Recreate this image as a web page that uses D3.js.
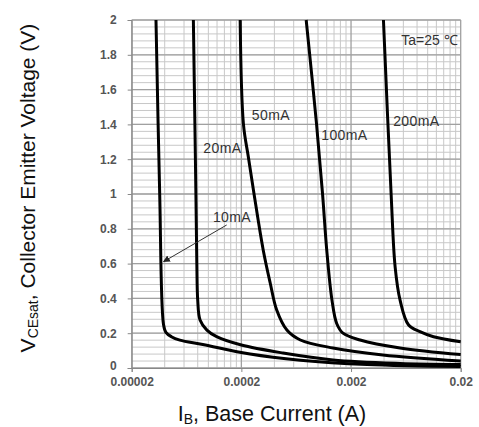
<!DOCTYPE html>
<html>
<head>
<meta charset="utf-8">
<script src="https://cdn.jsdelivr.net/npm/d3@7"></script>
<style>
  body { margin: 0; background: #fff; }
  svg { display: block; font-family: "Liberation Sans", Arial, sans-serif; }
</style>
</head>
<body>
<div id="chart"></div>
<script>
// base current values (A) and collector-emitter voltage (V)
const ib10 = [3.33e-5, 3.6e-5, 3.9e-5, 4.1e-5, 4.6e-5, 5.5e-5, 8.9e-5, 2.4e-4, 6.9e-4, 2.8e-3, 0.02];
const v10 = [2.0, 1.0, 0.25, 0.205, 0.18, 0.16, 0.135, 0.08, 0.045, 0.02, 0.008];

const ib20 = [7.3e-5, 7.7e-5, 7.85e-5, 8.0e-5, 8.4e-5, 9.7e-5, 1.19e-4, 2.0e-4, 4.8e-4, 1.37e-3, 5.6e-3, 0.02];
const v20 = [2.0, 1.0, 0.6, 0.39, 0.276, 0.218, 0.18, 0.132, 0.086, 0.046, 0.026, 0.02];

const ib50 = [1.95e-4, 2.09e-4, 2.32e-4, 2.61e-4, 3.16e-4, 3.66e-4, 4.2e-4, 5.2e-4, 6.9e-4, 1.37e-3, 3.9e-3, 0.02];
const v50 = [2.0, 1.4, 1.21, 1.0, 0.68, 0.49, 0.333, 0.218, 0.161, 0.115, 0.075, 0.04];

const ib100 = [7.8e-4, 9.7e-4, 1.10e-3, 1.20e-3, 1.34e-3, 1.48e-3, 1.69e-3, 2.42e-3, 5.6e-3, 0.02];
const v100 = [2.0, 1.4, 1.0, 0.68, 0.39, 0.256, 0.2, 0.161, 0.115, 0.077];

const ib200 = [3.95e-3, 4.64e-3, 5.05e-3, 5.6e-3, 6.7e-3, 8.5e-3, 1.13e-2, 0.02];
const v200 = [2.0, 1.0, 0.58, 0.39, 0.247, 0.209, 0.18, 0.151];

const xTicks = [0.00002, 0.0002, 0.002, 0.02];
const xTickLabels = ["0.00002", "0.0002", "0.002", "0.02"];
const yTicks = [0, 0.2, 0.4, 0.6, 0.8, 1, 1.2, 1.4, 1.6, 1.8, 2];

const seriesLabels = ["10mA", "20mA", "50mA", "100mA", "200mA"];
// label anchor (left end of baseline) in data units: [IB, V]
const labelPos = [[1.10e-4, 0.839], [9.0e-5, 1.234], [2.49e-4, 1.425], [1.07e-3, 1.31], [4.84e-3, 1.39]];

const width = 479, height = 427;
const margin = {left: 131.7, right: 18.3, top: 20, bottom: 59};

const svg = d3.select("#chart").append("svg")
    .attr("width", width)
    .attr("height", height);

const x = d3.scaleLog()
    .domain([xTicks[0], xTicks[xTicks.length - 1]])
    .range([margin.left, width - margin.right]);
const y = d3.scaleLinear()
    .domain([0, 2])
    .range([height - margin.bottom, margin.top]);

// grid: minor lines first, then major
const xMinor = [];
xTicks.slice(0, -1).forEach(function (t) {
    for (let m = 2; m <= 9; m++) xMinor.push(t * m);
});
const yMinor = d3.range(0, 2.0001, 0.04);

const grid = svg.append("g");
grid.selectAll("line.xm").data(xMinor).join("line")
    .attr("x1", d => x(d)).attr("x2", d => x(d))
    .attr("y1", y(0)).attr("y2", y(2))
    .attr("stroke", "#c8c8c8").attr("stroke-width", 1);
grid.selectAll("line.ym").data(yMinor).join("line")
    .attr("x1", x.range()[0]).attr("x2", x.range()[1])
    .attr("y1", d => y(d)).attr("y2", d => y(d))
    .attr("stroke", "#c8c8c8").attr("stroke-width", 1);
grid.selectAll("line.xM").data(xTicks).join("line")
    .attr("x1", d => x(d)).attr("x2", d => x(d))
    .attr("y1", y(0)).attr("y2", y(2))
    .attr("stroke", "#a0a0a0").attr("stroke-width", 1.3);
grid.selectAll("line.yM").data(yTicks).join("line")
    .attr("x1", x.range()[0]).attr("x2", x.range()[1])
    .attr("y1", d => y(d)).attr("y2", d => y(d))
    .attr("stroke", "#a0a0a0").attr("stroke-width", 1.3);

// axes
const xAxis = d3.axisBottom(x).tickValues(xTicks)
    .tickFormat((d, i) => xTickLabels[i]).tickSize(4).tickPadding(5);
const gx = svg.append("g")
    .attr("transform", "translate(0," + y(0) + ")")
    .call(xAxis);
gx.select(".domain").attr("stroke", "#888");
gx.selectAll(".tick line").attr("stroke", "#888");
gx.selectAll("text").attr("font-size", 12).attr("font-weight", "bold").attr("fill", "#555");

const yAxis = d3.axisLeft(y).tickValues(yTicks)
    .tickFormat(d3.format("~g")).tickSize(4).tickPadding(11);
const gy = svg.append("g")
    .attr("transform", "translate(" + x.range()[0] + ",0)")
    .call(yAxis);
gy.select(".domain").attr("stroke", "#888");
gy.selectAll(".tick line").attr("stroke", "#888");
gy.selectAll("text").attr("font-size", 12).attr("font-weight", "bold").attr("fill", "#555");
// lift the "0" label a touch so it clears the first x label
gy.selectAll(".tick").filter(d => d === 0).select("text").attr("dy", "0.1em");

// curves
svg.append("clipPath").attr("id", "plotclip")
    .append("rect")
    .attr("x", x.range()[0]).attr("y", y(2) - 1)
    .attr("width", x.range()[1] - x.range()[0] + 2)
    .attr("height", y(0) - y(2) + 2);

const series = [[ib10, v10], [ib20, v20], [ib50, v50], [ib100, v100], [ib200, v200]];
const line = d3.line()
    .x(d => x(d[0]))
    .y(d => y(d[1]))
    .curve(d3.curveCatmullRom.alpha(0.5));

svg.append("g").attr("clip-path", "url(#plotclip)")
    .selectAll("path").data(series).join("path")
    .attr("d", s => line(s[0].map((v, i) => [v, s[1][i]])))
    .attr("fill", "none")
    .attr("stroke", "#000")
    .attr("stroke-width", 3)
    .attr("stroke-linejoin", "round");

// curve labels
svg.append("g").selectAll("text").data(seriesLabels).join("text")
    .attr("x", (d, i) => x(labelPos[i][0]))
    .attr("y", (d, i) => y(labelPos[i][1]))
    .attr("font-size", 14)
    .attr("letter-spacing", 0.4)
    .attr("fill", "#333")
    .text(d => d);

// arrow for the 10mA label
svg.append("defs").append("marker")
    .attr("id", "arrowhead")
    .attr("viewBox", "0 0 10 10")
    .attr("refX", 9).attr("refY", 5)
    .attr("markerWidth", 7).attr("markerHeight", 7)
    .attr("orient", "auto")
    .append("path").attr("d", "M0,0 L10,5 L0,10 z").attr("fill", "#222");

svg.append("line")
    .attr("x1", x(1.47e-4)).attr("y1", y(0.822))
    .attr("x2", x(3.9e-5)).attr("y2", y(0.611))
    .attr("stroke", "#333").attr("stroke-width", 1)
    .attr("marker-end", "url(#arrowhead)");

svg.append("text")
    .attr("x", x(0.02) - 3).attr("y", y(1.856))
    .attr("text-anchor", "end")
    .attr("font-size", 14)
    .attr("fill", "#333")
    .text("Ta=25 \u2103");

// axis titles
const xt = svg.append("text")
    .attr("x", 272).attr("y", 421)
    .attr("text-anchor", "middle")
    .attr("font-size", 21.5)
    .attr("fill", "#111");
xt.append("tspan").text("I");
xt.append("tspan").attr("font-size", 14).attr("dy", 3).text("B");
xt.append("tspan").attr("dy", -3).text(", Base Current (A)");

const yt = svg.append("text")
    .attr("transform", "translate(35,188) rotate(-90)")
    .attr("text-anchor", "middle")
    .attr("font-size", 21)
    .attr("fill", "#111");
yt.append("tspan").text("V");
yt.append("tspan").attr("font-size", 14).attr("dy", 3).text("CEsat");
yt.append("tspan").attr("dy", -3).text(", Collector Emitter Voltage (V)");
</script>
</body>
</html>
